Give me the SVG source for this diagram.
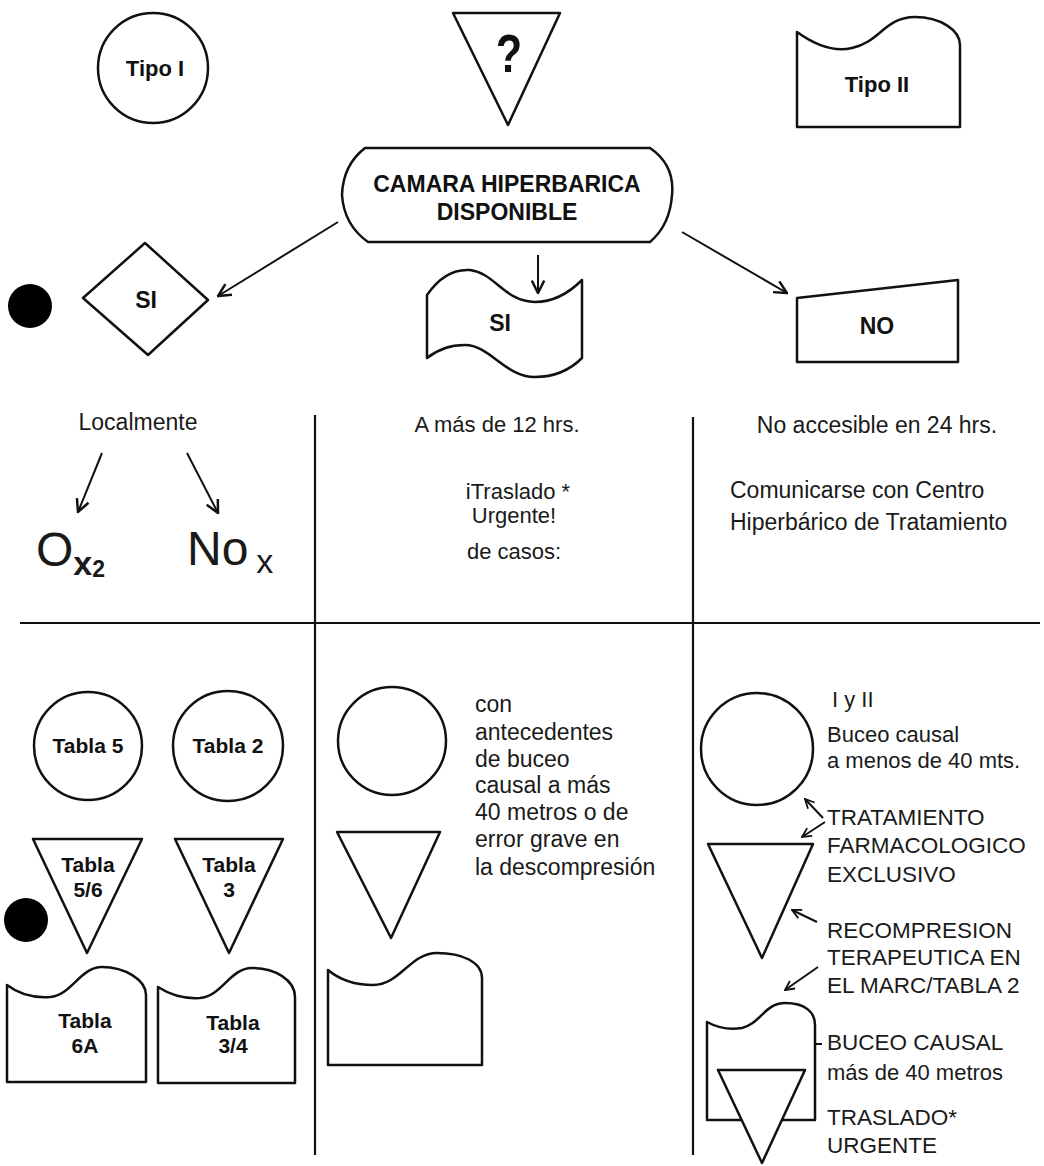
<svg xmlns="http://www.w3.org/2000/svg" width="1044" height="1166" viewBox="0 0 1044 1166">
<style>
.s{fill:#fff;stroke:#111;stroke-width:2.5;stroke-linejoin:round}
.ln{stroke:#111;stroke-width:2;fill:none}
.dv{stroke:#111;stroke-width:2.2;fill:none}
.b{font-family:"Liberation Sans",Arial,sans-serif;font-weight:bold;font-size:21px;fill:#111;text-anchor:middle}
.t{font-family:"Liberation Sans",Arial,sans-serif;font-size:22px;fill:#1a1a1a}
.c{text-anchor:middle}
.u{font-family:"Liberation Sans",Arial,sans-serif;font-size:22.5px;fill:#1a1a1a}
</style>
<defs>
<marker id="ah" viewBox="0 0 12 12" refX="11" refY="6" markerWidth="15" markerHeight="15" markerUnits="userSpaceOnUse" orient="auto"><path d="M1,1 L11,6 L1,11" fill="none" stroke="#111" stroke-width="2"/></marker>
<marker id="as" viewBox="0 0 12 12" refX="11" refY="6" markerWidth="11" markerHeight="11" markerUnits="userSpaceOnUse" orient="auto"><path d="M1,1 L11,6 L1,11" fill="none" stroke="#111" stroke-width="2"/></marker>
</defs>
<rect width="1044" height="1166" fill="#fff"/>

<g id="connectors">
<line class="ln" x1="338" y1="222" x2="218" y2="296" marker-end="url(#ah)"/>
<line class="ln" x1="538" y1="255" x2="538" y2="293" marker-end="url(#ah)"/>
<line class="ln" x1="682" y1="232" x2="787" y2="293" marker-end="url(#ah)"/>
<line class="ln" x1="102" y1="453" x2="78" y2="512" marker-end="url(#ah)"/>
<line class="ln" x1="187" y1="453" x2="218" y2="513" marker-end="url(#ah)"/>
<line class="ln" x1="823" y1="818" x2="805" y2="799" marker-end="url(#as)"/>
<line class="ln" x1="825" y1="822" x2="802" y2="837" marker-end="url(#as)"/>
<line class="ln" x1="817" y1="922" x2="792" y2="910" marker-end="url(#as)"/>
<line class="ln" x1="818" y1="967" x2="785" y2="990" marker-end="url(#as)"/>
<line class="ln" x1="822" y1="1044" x2="782" y2="1044" marker-end="url(#as)"/>
</g>

<g id="dividers">
<line class="dv" x1="315" y1="415" x2="315" y2="1155"/>
<line class="dv" x1="693" y1="417" x2="693" y2="1155"/>
<line class="dv" x1="20" y1="623" x2="1040" y2="623"/>
</g>

<g id="tipo1"><circle class="s" cx="153" cy="68" r="55"/><text class="b" x="155" y="76" style="font-size:22px">Tipo I</text></g>
<g id="pregunta"><polygon class="s" points="453,13 560,13 508,125"/><text class="b" transform="translate(509,72) scale(0.8,1)" style="font-size:54px">?</text></g>
<g id="tipo2"><path class="s" d="M797,32 C815,45 835,52 852,48 C880,42 885,17 915,17 C940,17 960,30 960,45 L960,127 L797,127 Z"/><text class="b" x="877" y="92" style="font-size:22px">Tipo II</text></g>

<g id="camara"><path class="s" d="M365,148 L650,148 Q675,165 672,195 Q670,225 650,242 L368,242 Q344,225 342,195 Q343,165 365,148 Z"/>
<text class="b" x="507" y="192" style="font-size:23px">CAMARA HIPERBARICA</text><text class="b" x="507" y="220" style="font-size:23px">DISPONIBLE</text></g>

<g id="dot1"><circle cx="30" cy="306" r="22" fill="#000"/></g>
<g id="si-local"><polygon class="s" points="83,298 145,243 208,300 148,355"/><text class="b" x="146" y="308" style="font-size:23px">SI</text></g>
<g id="si-traslado"><path class="s" d="M427,295 C440,276 455,269 470,270 C495,273 505,302 535,302 C555,302 570,292 582,280 L582,358 C570,370 555,377 535,377 C505,377 490,345 465,345 C450,345 437,350 427,358 Z"/><text class="b" x="500" y="331" style="font-size:23px">SI</text></g>
<g id="no"><polygon class="s" points="797,298 958,280 958,362 797,362"/><text class="b" x="877" y="334" style="font-size:23px">NO</text></g>

<g id="col1-top">
<text class="t c" x="138" y="430" style="font-size:23px">Localmente</text>
<text class="t" x="36" y="566" style="font-size:48px">O<tspan dy="9" style="font-size:34px;font-weight:bold">x</tspan><tspan dy="2" style="font-size:23px;font-weight:bold">2</tspan></text>
<text class="t" x="187" y="565" style="font-size:48px">No<tspan dx="8" dy="8" style="font-size:34px">x</tspan></text>
</g>
<g id="col2-top">
<text class="t c" x="497" y="432">A más de 12 hrs.</text>
<text class="t c" x="518" y="499">iTraslado *</text>
<text class="t c" x="514" y="523">Urgente!</text>
<text class="t c" x="514" y="559">de casos:</text>
</g>
<g id="col3-top">
<text class="t c" x="877" y="433" style="font-size:23px">No accesible en 24 hrs.</text>
<text class="t" x="730" y="498" style="font-size:23px">Comunicarse con Centro</text>
<text class="t" x="730" y="530" style="font-size:23px">Hiperbárico de Tratamiento</text>
</g>

<g id="tabla5"><circle class="s" cx="88" cy="746" r="54"/><text class="b" x="88" y="753">Tabla 5</text></g>
<g id="tabla2"><circle class="s" cx="228" cy="746" r="55"/><text class="b" x="228" y="753">Tabla  2</text></g>
<g id="tabla56"><polygon class="s" points="33,839 142,839 87,953"/><text class="b" x="88" y="872">Tabla</text><text class="b" x="88" y="897">5/6</text></g>
<g id="tabla3"><polygon class="s" points="175,839 283,839 229,953"/><text class="b" x="229" y="872">Tabla</text><text class="b" x="229" y="897">3</text></g>
<g id="dot2"><circle cx="26" cy="920" r="22" fill="#000"/></g>
<g id="tabla6a"><path class="s" d="M7,985 C20,995 35,998 50,997 C72,995 80,967 102,967 C125,967 146,980 146,995 L146,1082 L7,1082 Z"/><text class="b" x="85" y="1028">Tabla</text><text class="b" x="85" y="1053">6A</text></g>
<g id="tabla34"><path class="s" d="M158,987 C172,996 185,999 200,998 C222,996 230,968 252,968 C275,968 295,980 295,997 L295,1083 L158,1083 Z"/><text class="b" x="233" y="1030">Tabla</text><text class="b" x="233" y="1053">3/4</text></g>

<g id="mid-circle"><circle class="s" cx="392" cy="741" r="54"/></g>
<g id="mid-triangle"><polygon class="s" points="337,832 440,832 391,938"/></g>
<g id="mid-doc"><path class="s" d="M328,970 C340,980 355,985 373,985 C400,985 410,953 437,953 C462,953 482,962 482,978 L482,1065 L328,1065 Z"/></g>
<g id="mid-text">
<text class="t" x="475" y="712" style="font-size:23px">con</text>
<text class="t" x="475" y="740" style="font-size:23px">antecedentes</text>
<text class="t" x="475" y="767" style="font-size:23px">de buceo</text>
<text class="t" x="475" y="793" style="font-size:23px">causal a más</text>
<text class="t" x="475" y="820" style="font-size:23px">40 metros o de</text>
<text class="t" x="475" y="847" style="font-size:23px">error grave en</text>
<text class="t" x="475" y="875" style="font-size:23px">la descompresión</text>
</g>

<g id="right-circle"><circle class="s" cx="757" cy="749" r="56"/></g>
<g id="right-triangle"><polygon class="s" points="708,844 813,844 762,958"/></g>
<g id="right-doc"><path class="s" d="M707,1022 C718,1028 730,1030 742,1028 C760,1024 765,1003 785,1003 C805,1003 815,1012 815,1025 L815,1120 L707,1120 Z"/></g>
<g id="right-triangle2"><polygon class="s" points="718,1070 805,1070 762,1163"/></g>
<g id="right-text">
<text class="t" x="832" y="707">I y II</text>
<text class="t" x="827" y="742">Buceo causal</text>
<text class="t" x="827" y="768">a menos de 40 mts.</text>
<text class="u" x="827" y="825">TRATAMIENTO</text>
<text class="u" x="827" y="853">FARMACOLOGICO</text>
<text class="u" x="827" y="882">EXCLUSIVO</text>
<text class="u" x="827" y="938">RECOMPRESION</text>
<text class="u" x="827" y="965">TERAPEUTICA EN</text>
<text class="u" x="827" y="993">EL MARC/TABLA 2</text>
<text class="u" x="827" y="1050">BUCEO CAUSAL</text>
<text class="t" x="827" y="1080">más de 40 metros</text>
<text class="u" x="827" y="1125">TRASLADO*</text>
<text class="u" x="827" y="1153">URGENTE</text>
</g>
</svg>
